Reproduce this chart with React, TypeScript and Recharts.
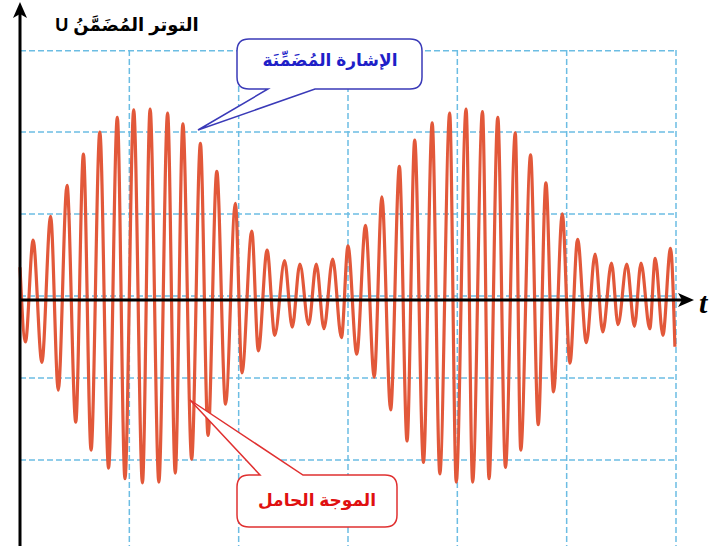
import React from "react";
import { LineChart, Line, XAxis, YAxis, CartesianGrid, ReferenceLine } from "recharts";

// carrier extrema; time in grid tenths, U in grid divisions
const leadIn = { t: 0.0, u: 0.4 };

const troughTimes = [
  0.5, 2.0, 3.5, 5.1, 6.5, 8.1, 9.6, 11.2, 12.7, 14.2, 15.7, 17.2, 18.8, 20.3,
  21.8, 23.3, 24.9, 26.4, 27.8, 29.4, 30.8, 32.4, 33.9, 35.4, 36.9, 38.4, 39.9,
  41.4, 42.9, 44.4, 45.8, 47.4, 48.8, 50.3, 51.8, 53.3, 54.7, 56.2, 57.6, 58.8,
  59.9,
];
const troughValues = [
  -0.51, -0.76, -1.1, -1.49, -1.83, -2.05, -2.18, -2.23, -2.22, -2.11, -1.94,
  -1.65, -1.27, -0.89, -0.62, -0.43, -0.33, -0.3, -0.35, -0.46, -0.66, -0.94,
  -1.34, -1.72, -1.98, -2.12, -2.22, -2.22, -2.18, -2.04, -1.83, -1.52, -1.12,
  -0.77, -0.52, -0.39, -0.3, -0.32, -0.35, -0.43, -0.57,
];

const peakTimes = [
  1.2, 2.8, 4.3, 5.8, 7.3, 8.9, 10.4, 11.9, 13.5, 14.9, 16.5, 18.0, 19.7, 21.2,
  22.6, 24.2, 25.6, 27.1, 28.6, 30.0, 31.6, 33.1, 34.7, 36.1, 37.7, 39.3, 40.8,
  42.3, 43.7, 45.3, 46.7, 48.1, 49.6, 51.0, 52.6, 54.1, 55.5, 56.8, 58.1, 59.5,
];
const peakValues = [
  0.73, 1.02, 1.4, 1.78, 2.05, 2.23, 2.32, 2.33, 2.28, 2.15, 1.91, 1.57, 1.18,
  0.84, 0.61, 0.48, 0.44, 0.44, 0.5, 0.66, 0.91, 1.26, 1.63, 1.95, 2.16, 2.28,
  2.33, 2.3, 2.23, 2.04, 1.77, 1.43, 1.05, 0.74, 0.56, 0.45, 0.44, 0.45, 0.51,
  0.63,
];

const timeGridTicks = [0, 10, 20, 30, 40, 50, 60];
// the printed grid sits a few pixels above the drawn time axis
const levelGridLines = [3.04, 2.05, 1.05, 0.05, -0.95, -1.95];

const data: { t: number; u: number }[] = [leadIn];
troughTimes.forEach((t, i) => {
  data.push({ t, u: troughValues[i] });
  if (i < peakTimes.length) data.push({ t: peakTimes[i], u: peakValues[i] });
});

const gridColor = "#6cbde3";
const arabicFont = "'Liberation Sans', 'DejaVu Sans', Arial, sans-serif";

function Label({ x, y, color, size, children }: any) {
  return (
    <div
      dir="rtl"
      style={{
        position: "absolute",
        left: x,
        top: y,
        transform: "translate(-50%, -50%)",
        whiteSpace: "nowrap",
        fontFamily: arabicFont,
        fontWeight: "bold",
        fontSize: size,
        color,
        lineHeight: 1,
      }}
    >
      {children}
    </div>
  );
}

export default function App() {
  return (
    <div
      style={{
        position: "absolute",
        left: 0,
        top: 0,
        width: 709,
        height: 546,
        background: "#fff",
        overflow: "hidden",
      }}
    >
      <LineChart
        width={709}
        height={546}
        data={data}
        margin={{ top: 50, right: 33, bottom: 0, left: 20 }}
      >
        <XAxis
          xAxisId="t"
          dataKey="t"
          type="number"
          domain={[0, 60]}
          ticks={timeGridTicks}
          hide
        />
        <YAxis yAxisId="u" type="number" domain={[-3.0, 3.05]} hide />
        <CartesianGrid
          xAxisId="t"
          yAxisId="u"
          horizontal={false}
          stroke={gridColor}
          strokeWidth={1.5}
          strokeDasharray="6 3"
        />
        {levelGridLines.map((v) => (
          <ReferenceLine
            key={v}
            xAxisId="t"
            yAxisId="u"
            y={v}
            stroke={gridColor}
            strokeWidth={1.5}
            strokeDasharray="6 3"
          />
        ))}
        <Line
          xAxisId="t"
          yAxisId="u"
          dataKey="u"
          type="monotone"
          stroke="#e2583a"
          strokeWidth={3.2}
          dot={false}
          activeDot={false}
          isAnimationActive={false}
        />
      </LineChart>

      <svg
        width={709}
        height={546}
        style={{ position: "absolute", left: 0, top: 0, pointerEvents: "none" }}
      >
        {/* axes */}
        <line x1={20} y1={546} x2={20} y2={12} stroke="#000" strokeWidth={3} />
        <path d="M20 2 L27 18 L20 14 L13 18 Z" fill="#000" />
        <line x1={20} y1={300} x2={686} y2={300} stroke="#000" strokeWidth={3} />
        <path d="M694 300 L678 293 L682 300 L678 307 Z" fill="#000" />
        <text
          x={699}
          y={313}
          fontFamily="'Liberation Serif', serif"
          fontWeight="bold"
          fontStyle="italic"
          fontSize={30}
        >
          t
        </text>

        {/* callouts */}
        <path
          d="M249 39 H410 Q422 39 422 51 V77 Q422 89 410 89 H315 L198 130 L268 89 H249 Q237 89 237 77 V51 Q237 39 249 39 Z"
          fill="#fff"
          stroke="#3a3ab8"
          strokeWidth={1.5}
        />
        <path
          d="M249 475 H260 L190 400 L303 475 H385 Q397 475 397 487 V515 Q397 527 385 527 H249 Q237 527 237 515 V487 Q237 475 249 475 Z"
          fill="#fff"
          stroke="#e03030"
          strokeWidth={1.5}
        />
      </svg>

      <Label x={127} y={25} color="#000" size={18}>
        التوتر المُضَمَّنُ U
      </Label>
      <Label x={330} y={60} color="#1f1fc8" size={17}>
        الإشارة المُضَمِّنَة
      </Label>
      <Label x={317} y={500} color="#e01010" size={17}>
        الموجة الحامل
      </Label>
    </div>
  );
}
